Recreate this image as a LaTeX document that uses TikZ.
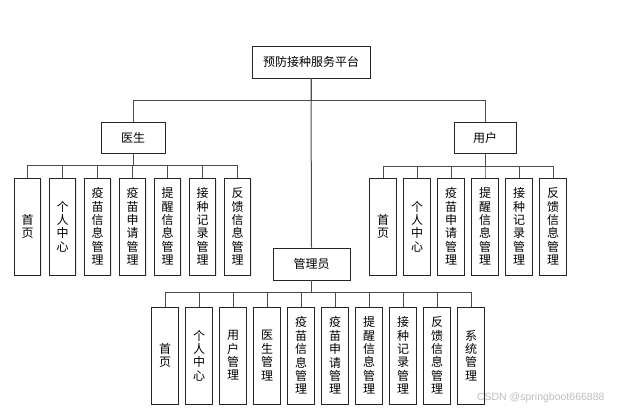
\documentclass[tikz,border=0pt]{standalone}
\usepackage{fontspec}
\setmainfont{Noto Sans CJK SC}
\newfontfamily\latinfont{Liberation Sans}
\usetikzlibrary{shadows}
\tikzset{
  x=1pt, y=-1pt,
  boxbase/.style={draw=black!85, line width=0.9pt, fill=white, inner sep=0pt,
    drop shadow={opacity=0.18, shadow xshift=1.2pt, shadow yshift=-1.2pt}},
  hbox/.style={boxbase, font=\fontsize{12}{14}\selectfont},
  vbox/.style={boxbase, minimum width=26.5pt, minimum height=97pt, align=center,
    font=\fontsize{12}{13.4}\selectfont},
  conn/.style={draw=black!70, line width=1pt},
}
\begin{document}
\begin{tikzpicture}
\fill[white] (0,0) rectangle (620,412);
\useasboundingbox (0,0) rectangle (620,412);

\node[hbox, minimum width=118pt, minimum height=32pt] (top) at (311,62) {预防接种服务平台};
\node[hbox, minimum width=64pt, minimum height=31pt] (doc) at (133,137.5) {医生};
\node[hbox, minimum width=62pt, minimum height=31pt] (usr) at (485,137.5) {用户};
\node[hbox, minimum width=77pt, minimum height=32pt] (adm) at (311.5,264) {管理员};

% doctor children
\foreach \t [count=\i] in {{首\\页},{个\\人\\中\\心},{疫\\苗\\信\\息\\管\\理},{疫\\苗\\申\\请\\管\\理},{提\\醒\\信\\息\\管\\理},{接\\种\\记\\录\\管\\理},{反\\馈\\信\\息\\管\\理}}
  \node[vbox] (d\i) at ({27.5+35*(\i-1)},226.5) {\t};

% user children
\foreach \t [count=\i] in {{首\\页},{个\\人\\中\\心},{疫\\苗\\申\\请\\管\\理},{提\\醒\\信\\息\\管\\理},{接\\种\\记\\录\\管\\理},{反\\馈\\信\\息\\管\\理}}
  \node[vbox] (u\i) at ({383+34*(\i-1)},226.5) {\t};

% admin children
\foreach \t [count=\i] in {{首\\页},{个\\人\\中\\心},{用\\户\\管\\理},{医\\生\\管\\理},{疫\\苗\\信\\息\\管\\理},{疫\\苗\\申\\请\\管\\理},{提\\醒\\信\\息\\管\\理},{接\\种\\记\\录\\管\\理},{反\\馈\\信\\息\\管\\理},{系\\统\\管\\理}}
  \node[vbox] (a\i) at ({165+34*(\i-1)},355.5) {\t};

% connectors
\begin{scope}[on background layer/.try]
\end{scope}
\path[conn] (top.south) -- (adm.north);
\path[conn] (doc.north) -- ++(0,-21) -| (top.south);
\path[conn] (usr.north) -- ++(0,-21) -| (top.south);
\foreach \i in {1,...,7} \path[conn] (d\i.north) -- ++(0,-12) -| (doc.south);
\foreach \i in {1,...,6} \path[conn] (u\i.north) -- ++(0,-11) -| (usr.south);
\foreach \i in {1,...,10} \path[conn] (a\i.north) -- ++(0,-14) -| (adm.south);

\node[text=black!25, font=\latinfont\fontsize{10.5}{12}\selectfont, anchor=east] (wm) at (608,398) {CSDN @springboot666888};
\end{tikzpicture}
\end{document}
